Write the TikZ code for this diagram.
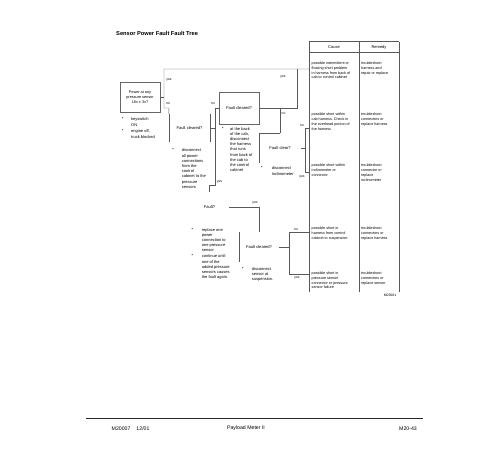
\documentclass[tikz,border=0pt]{standalone}
\usepackage{fontspec}
\setmainfont{Liberation Sans}
\tikzset{
  ln/.style={black!65, line width=0.45pt},
  qbox/.style={inner sep=0pt, align=center,
    font=\fontsize{4.1}{5.2}\selectfont},
  mainbox/.style={qbox, draw=black!60, line width=0.4pt},
  note/.style={inner sep=0pt, anchor=north west, align=left,
    font=\fontsize{4}{5.2}\selectfont},
  cell/.style={inner sep=0pt, anchor=north west, align=left,
    font=\fontsize{3.7}{4.9}\selectfont},
  bul/.style={inner sep=0pt, font=\fontsize{4}{5}\selectfont},
  lbl/.style={inner sep=0pt, font=\fontsize{3.4}{4}\selectfont},
  foot/.style={inner sep=0pt, font=\fontsize{5.2}{6}\selectfont}
}
\begin{document}
\begin{tikzpicture}[x=1pt, y=-1pt]
  \path[use as bounding box] (0,0) rectangle (500,450);

  \node[anchor=west, inner sep=0pt, font=\bfseries\fontsize{5.7}{7}\selectfont]
    (title) at (116,33) {Sensor Power Fault Fault Tree};

  % cause / remedy table
  \draw[ln] (309,41.7) -- (399,41.7);
  \draw[ln] (309,52.7) -- (399,52.7);
  \foreach \x in {309,359,399}
    \draw[ln] (\x,41.7) -- (\x,291.7);
  \node[inner sep=0pt, font=\fontsize{4}{5}\selectfont] (cause) at (334,47) {Cause};
  \node[inner sep=0pt, font=\fontsize{4}{5}\selectfont] (remedy) at (379,47) {Remedy};

  \node[cell] (cause1) at (311.5,61.4) {possible intermittent or\\floating short problem\\in harness from back of\\cab to control cabinet};
  \node[cell] (fix1) at (361,61.4) {troubleshoot\\harness and\\repair or replace};
  \node[cell] (cause2) at (311.5,112.7) {possible short within\\cab harness.\ Check in\\the overhead portion of\\the harness};
  \node[cell] (fix2) at (361,112.7) {troubleshoot\\connectors or\\replace harness};
  \node[cell] (cause3) at (311.5,163.7) {possible short within\\inclinometer or\\connector};
  \node[cell] (fix3) at (361,163.7) {troubleshoot\\connector or\\replace\\inclinometer};
  \node[cell] (cause4) at (311.5,227) {possible short in\\harness from control\\cabinet to suspension.};
  \node[cell] (fix4) at (361,227) {troubleshoot\\connectors or\\replace harness};
  \node[cell] (cause5) at (311.5,271.4) {possible short in\\pressure sensor\\connector or pressure\\sensor failure};
  \node[cell] (fix5) at (361,271.4) {troubleshoot\\connectors or\\replace sensor};
  \node[inner sep=0pt, font=\fontsize{3.4}{4}\selectfont] (figno) at (390,295) {M03081};

  % decisions
  \node[mainbox, minimum width=40pt, minimum height=30pt, font=\fontsize{3.8}{5}\selectfont]
    (power) at (140,97) {Power at any\\pressure sensor\\18v ± 3v?};
  \node[qbox, minimum width=41pt, minimum height=28pt] (clrA) at (189.5,128) {Fault cleared?};
  \node[mainbox, minimum width=40pt, minimum height=32pt] (clrB) at (239,108) {Fault cleared?};
  \node[qbox, minimum width=42pt, minimum height=30pt] (clrE) at (280,148) {Fault clear?};
  \node[qbox, minimum width=39pt, minimum height=30pt] (faultD) at (209.5,207) {Fault?};
  \node[qbox, minimum width=40pt, minimum height=30pt] (clrC) at (259,247) {Fault cleared?};

  % visible box sides
  \draw[ln] (clrA.north west) -- (clrA.south west);
  \draw[ln] (clrA.north east) -- (clrA.south east);
  \draw[ln] (clrE.north) -- (clrE.north west) -- (clrE.south west);
  \draw[ln] (clrC.north west) -- (clrC.south west);

  % checks
  \node[bul] (b1) at (122.7,119) {•};
  \node[note] (pwrA) at (131,117.7) {keyswitch\\ON};
  \node[bul] (b2) at (122.7,131) {•};
  \node[note] (pwrB) at (131,129.7) {engine off,\\truck blocked};
  \node[bul] (b3) at (173,150) {•};
  \node[note] (noteA) at (181.7,148.7) {disconnect\\all power\\connections\\from the\\control\\cabinet to the\\pressure\\sensors};
  \node[bul] (b4) at (222.7,128.3) {•};
  \node[note] (noteB) at (230,127) {at the back\\of the cab,\\disconnect\\the harness\\that runs\\from back of\\the cab to\\the control\\cabinet};
  \node[bul] (b5) at (261.7,168) {•};
  \node[note] (noteE) at (271.7,166.7) {disconnect\\Inclinometer};
  \node[bul] (b6) at (192.3,229.3) {•};
  \node[note] (noteD1) at (201.7,228) {replace one\\power\\connection to\\one pressure\\sensor};
  \node[bul] (b7) at (192.3,256) {•};
  \node[note] (noteD2) at (201.7,254.7) {continue until\\one of the\\added pressure\\sensors causes\\the fault again.};
  \node[bul] (b8) at (242.7,268.3) {•};
  \node[note] (noteC) at (251.7,267) {disconnect\\sensor at\\suspension.};

  % branch points
  \coordinate (pTop) at (164,69);
  \coordinate (pBot) at (164,108);
  \coordinate (aFork) at (215,128);
  \coordinate (aTop) at (215,108);
  \coordinate (aBot) at (215,185);
  \coordinate (bFork) at (280,108);
  \coordinate (bTop) at (297,69);
  \coordinate (eTop) at (305,128);
  \coordinate (eBot) at (305,172);
  \coordinate (cTop) at (289,232.5);
  \coordinate (cBot) at (289,274);
  \coordinate (r1) at (309,69);
  \coordinate (r2) at (309,128);
  \coordinate (r3) at (309,172);
  \coordinate (r4) at (309,232.5);
  \coordinate (r5) at (309,274);

  \draw[ln] (power.east) -- (power.east -| pTop);
  \draw[ln] (r1) -- (pTop) -- (pBot) -- ++(5,0) -- (clrA.north west);
  \draw[ln] (clrA.east) -- (aFork);
  \draw[ln] (clrB.west) -- (aTop) -- (aBot) -| (faultD.north);
  \draw[ln] (clrB.east) -| (bTop);
  \draw[ln] (bFork) -- (clrE.north);
  \draw[ln] (clrE.east) -- (clrE.east -| eTop);
  \draw[ln] (r2) -- (eTop) -- (eBot) -- (r3);
  \draw[ln] (faultD.east) -| (clrC.north);
  \draw[ln] (clrC.east) -- (clrC.east -| cTop);
  \draw[ln] (r4) -- (cTop) -- (cBot) -- (r5);

  % yes / no
  \node[lbl] (y1) at (169,80) {yes};
  \node[lbl] (n1) at (168,104) {no};
  \node[lbl] (n2) at (213,104) {no};
  \node[lbl] (y2) at (219.5,182) {yes};
  \node[lbl] (y3) at (283,77) {yes};
  \node[lbl] (n3) at (283.5,114) {no};
  \node[lbl] (n4) at (302,125.5) {no};
  \node[lbl] (y4) at (302,177) {yes};
  \node[lbl] (y5) at (255,203) {yes};
  \node[lbl] (n5) at (296,229.5) {no};
  \node[lbl] (y6) at (297,278) {yes};

  % page footer
  \draw[black!85, line width=0.8pt] (86,418) -- (423,418);
  \node[foot, anchor=west] (code) at (111.5,428.3) {M20007\hspace{6pt}12/01};
  \node[foot] (book) at (246,428.3) {Payload Meter II};
  \node[foot, anchor=east] (page) at (417,428.3) {M20-43};
\end{tikzpicture}
\end{document}
